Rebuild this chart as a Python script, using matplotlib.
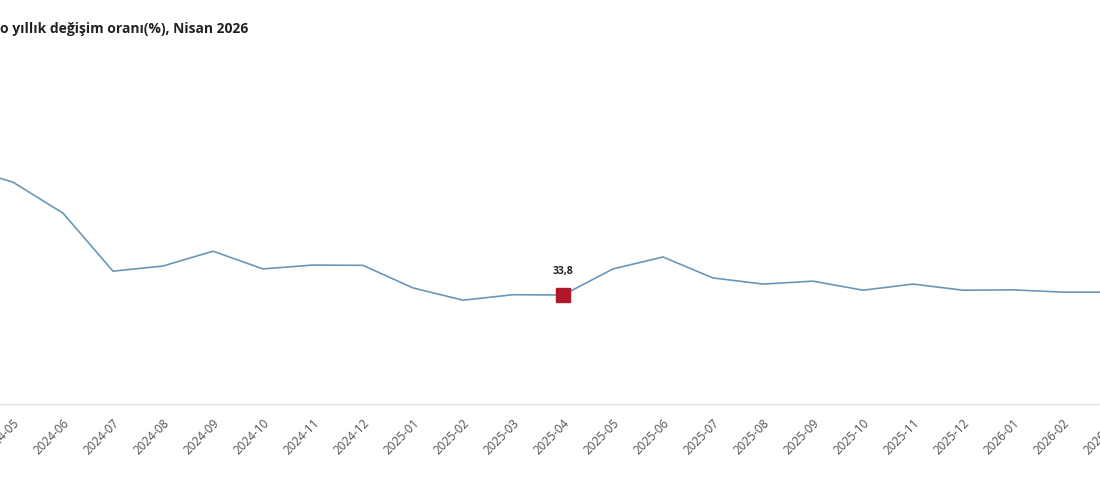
import matplotlib.pyplot as plt

months = ['2024-04', '2024-05', '2024-06', '2024-07', '2024-08', '2024-09',
          '2024-10', '2024-11', '2024-12', '2025-01', '2025-02', '2025-03',
          '2025-04', '2025-05', '2025-06', '2025-07', '2025-08', '2025-09',
          '2025-10', '2025-11', '2025-12', '2026-01', '2026-02', '2026-03',
          '2026-04']
rate = [73.5, 68.8, 59.2, 41.2, 42.8, 47.4, 41.9, 43.1, 43.0, 36.0, 32.2, 33.9,
        33.8, 41.9, 45.6, 39.1, 37.2, 38.1, 35.3, 37.2, 35.3, 35.4, 34.7, 34.7,
        34.7]
highlight = '2025-04'
title = 'o yıllık değişim oranı(%), Nisan 2026'

plt.rcParams['font.family'] = ['Open Sans', 'DejaVu Sans']

fig = plt.figure(figsize=(11, 4.88), dpi=100)
# the source chart is cropped, so the axes run a bit past the right edge
ax = fig.add_axes([0, 84 / 488, 1114 / 1100, 344 / 488])

x = list(range(len(months)))
ax.plot(x, rate, color='#6a97b8', lw=1.2)

hi = months.index(highlight)
ax.plot(hi, rate[hi], marker='s', ms=9.5, color='#b0182a', mec='#b0182a')
ax.annotate(f'{rate[hi]:.1f}'.replace('.', ','), (hi, rate[hi]),
            xytext=(0, 13), textcoords='offset points', ha='center',
            va='bottom', fontsize=7.5, fontweight='bold', color='#222222')

ax.set_xticks(x)
ax.set_xticklabels(months, rotation=45, ha='right', rotation_mode='anchor',
                   fontsize=8.5, color='#505050')
ax.tick_params(axis='x', length=0, pad=9)
ax.set_yticks([])
ax.set_xlim(0.74, 23.02)
ax.set_ylim(0, 106.7)
for s in ['top', 'left', 'right']:
    ax.spines[s].set_visible(False)
ax.spines['bottom'].set_color('#e3e3e3')
ax.spines['bottom'].set_linewidth(1)

fig.text(0.0, 1 - 29 / 488, title, ha='left', va='center', fontsize=10,
         fontweight='bold', color='#222222')

fig.savefig('out.png', dpi=100)
